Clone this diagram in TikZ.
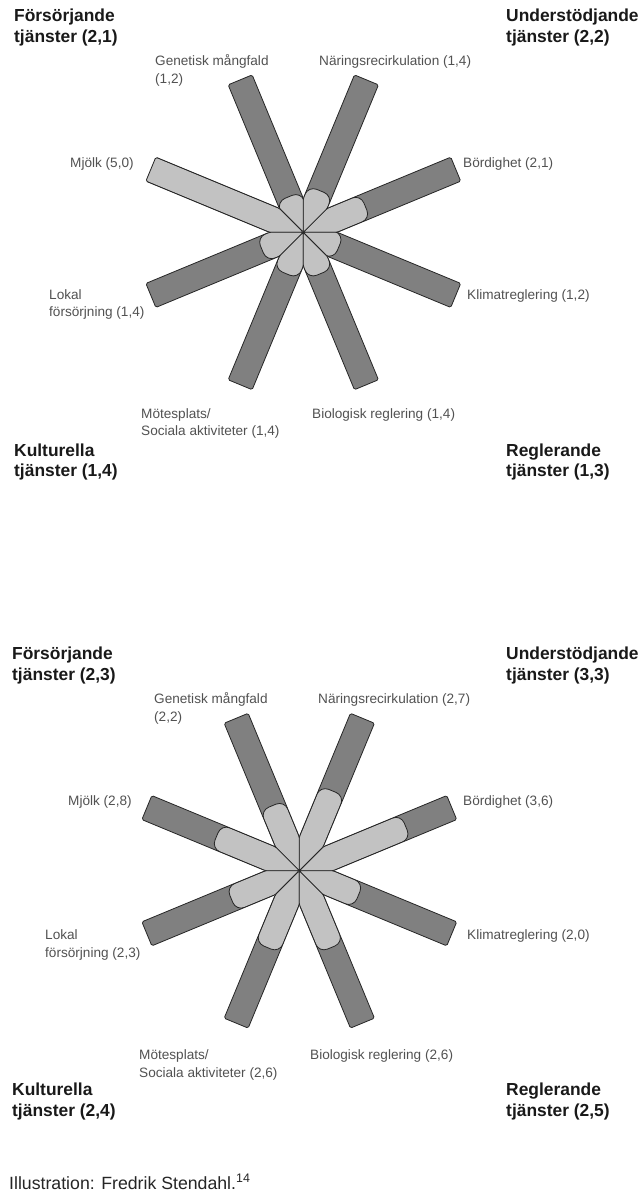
\documentclass[tikz,border=0pt]{standalone}
\usepackage{fontspec}
\setmainfont{Liberation Sans}
\colorlet{bardark}{black!50}
\colorlet{barlight}{black!24}
\colorlet{barline}{black!85}
\colorlet{labelgray}{black!68}

% one wheel: center, list of angle/value
\newcommand{\servicewheel}[2]{%
  \foreach \ang/\val in {#2} {
    \begin{scope}[shift={#1}, rotate=\ang]
      \path[bar] (0,0) -- (31.4,-13) -- (165,-13) -- (165,13) -- (31.4,13) -- cycle;
      \begin{scope}
        \clip[rounded corners=1.5pt] (0,0) -- (31.4,-13) -- (165,-13) -- (165,13) -- (31.4,13) -- cycle;
        \pgfmathsetmacro{\reach}{\val>4.9 ? 185 : 32*\val}
        \path[share] (-20,-13) rectangle (\reach,13);
      \end{scope}
      \draw[edge] (0,0) -- (31.4,-13) -- (165,-13) -- (165,13) -- (31.4,13) -- cycle;
    \end{scope}
  }
  \fill[barline] #1 circle (1.3pt);
}

\begin{document}
\begin{tikzpicture}[x=1pt, y=-1pt,
    bar/.style={fill=bardark, rounded corners=1.5pt},
    share/.style={fill=barlight, draw=barline, line width=0.8pt, rounded corners=9pt},
    edge/.style={draw=barline, line width=0.8pt, rounded corners=1.5pt},
    service/.style={font=\fontsize{13.6}{17.5}\selectfont, text=labelgray, anchor=base west, align=left, inner sep=0pt},
    group/.style={font=\fontsize{17.4}{20.5}\selectfont\bfseries, text=black!90, anchor=base west, align=left, inner sep=0pt}]
  \useasboundingbox[fill=white] (0,0) rectangle (643,1196);

  % first wheel (two-line nodes sit on their last line)
  \servicewheel{(303.3,232.3)}{22.5/2.1, 67.5/1.4, 112.5/1.2, 157.5/5.0, 202.5/1.4, 247.5/1.4, 292.5/1.4, 337.5/1.2}
  \node[group] (supply1) at (14,42.5) {Försörjande\\tjänster (2,1)};
  \node[group] (support1) at (506,42.5) {Understödjande\\tjänster (2,2)};
  \node[group] (culture1) at (14,476.5) {Kulturella\\tjänster (1,4)};
  \node[group] (regul1) at (506,476.5) {Reglerande\\tjänster (1,3)};
  \node[service] (genetic1) at (155,83.5) {Genetisk mångfald\\(1,2)};
  \node[service] (nutrient1) at (319,66) {Näringsrecirkulation (1,4)};
  \node[service] (milk1) at (70,167) {Mjölk (5,0)};
  \node[service] (fertile1) at (463,167) {Bördighet (2,1)};
  \node[service] (local1) at (49,316.5) {Lokal\\försörjning (1,4)};
  \node[service] (climate1) at (467,299) {Klimatreglering (1,2)};
  \node[service] (meeting1) at (141,435.5) {Mötesplats/\\Sociala aktiviteter (1,4)};
  \node[service] (biocontrol1) at (312,418) {Biologisk reglering (1,4)};

  % second wheel
  \begin{scope}[shift={(0,638.5)}]
    \servicewheel{(299.3,232.2)}{22.5/3.6, 67.5/2.7, 112.5/2.2, 157.5/2.8, 202.5/2.3, 247.5/2.6, 292.5/2.6, 337.5/2.0}
    \node[group] (supply2) at (12,41.5) {Försörjande\\tjänster (2,3)};
    \node[group] (support2) at (506,41.5) {Understödjande\\tjänster (3,3)};
    \node[group] (culture2) at (12,477.5) {Kulturella\\tjänster (2,4)};
    \node[group] (regul2) at (506,477.5) {Reglerande\\tjänster (2,5)};
    \node[service] (genetic2) at (154,82.5) {Genetisk mångfald\\(2,2)};
    \node[service] (nutrient2) at (318,65) {Näringsrecirkulation (2,7)};
    \node[service] (milk2) at (68,167) {Mjölk (2,8)};
    \node[service] (fertile2) at (463,167) {Bördighet (3,6)};
    \node[service] (local2) at (45,318.5) {Lokal\\försörjning (2,3)};
    \node[service] (climate2) at (467,301) {Klimatreglering (2,0)};
    \node[service] (meeting2) at (139,438.5) {Mötesplats/\\Sociala aktiviteter (2,6)};
    \node[service] (biocontrol2) at (310,421) {Biologisk reglering (2,6)};
  \end{scope}

  \node[anchor=base west, inner sep=0pt, text=black!85, font=\fontsize{17.7}{20}\selectfont] (credit) at (9,1189) {Illustration: Fredrik Stendahl.\textsuperscript{14}};
\end{tikzpicture}
\end{document}
